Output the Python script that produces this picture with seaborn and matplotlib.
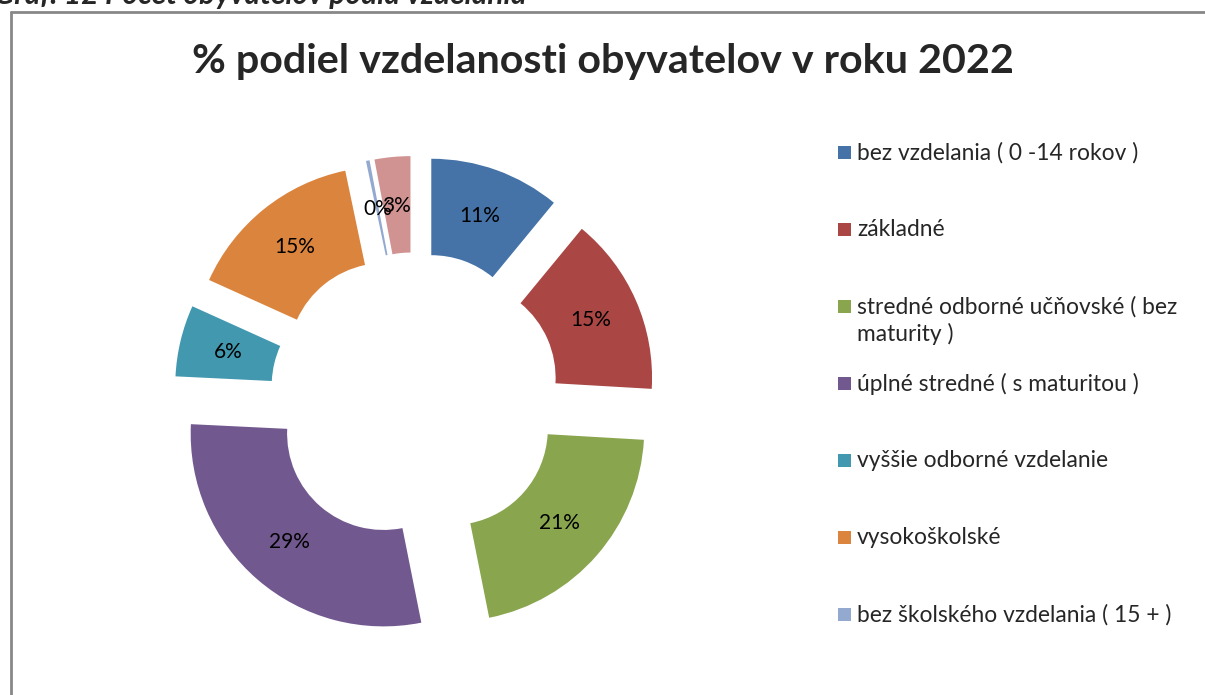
#===========================================
# Vzdelanost obyvatelov 2022 - donut chart
#===========================================

import matplotlib
matplotlib.use("Agg")
import matplotlib.pyplot as plt
from matplotlib.patches import Rectangle
from matplotlib.lines import Line2D
import seaborn as sns

# Data
categories = [
    "bez vzdelania ( 0 -14 rokov )",
    "základné",
    "stredné odborné učňovské ( bez\nmaturity )",
    "úplné stredné ( s maturitou )",
    "vyššie odborné vzdelanie",
    "vysokoškolské",
    "bez školského vzdelania ( 15 + )",
    "",
]
shares = [11, 15, 21, 29, 6, 15, 0.3, 3]
colors = ["#4572A7", "#AA4643", "#89A54E", "#71588F",
          "#4198AF", "#DB843D", "#93A9CF", "#D19392"]
legend_count = 7  # last slice has no legend entry in the source

title = "% podiel vzdelanosti obyvatelov v roku 2022"
caption = "Graf. 12 Počet obyvateľov podľa vzdelania"

# Style
sns.set_style("white")
plt.rcParams["font.family"] = ["Lato", "DejaVu Sans"]

fig = plt.figure(figsize=(12.05, 6.95), dpi=100)
W, H = 1205, 695

# -----------------------------------------
# Donut
# -----------------------------------------
ax = fig.add_axes([145 / W, 28 / H, 540 / W, 540 / H])
wedges, texts, autotexts = ax.pie(
    shares,
    colors=colors,
    startangle=90,
    counterclock=False,
    explode=[0.25] * len(shares),
    autopct=lambda p: f"{p:.0f}%",
    pctdistance=0.745,
    wedgeprops=dict(width=0.5, edgecolor="none"),
    textprops=dict(fontsize=15, color="black"),
)
ax.set_xlim(-1.4, 1.4)
ax.set_ylim(-1.4, 1.4)
ax.set_aspect("equal")
ax.axis("off")

# -----------------------------------------
# Title, caption, frame
# -----------------------------------------
fig.text(603 / W, 1 - 62 / H, title, ha="center", va="center",
         fontsize=29.7, fontweight="bold")
fig.text(-6 / W, 1 - 4 / H, caption, ha="left", va="baseline",
         fontsize=21.5, fontweight="bold", fontstyle="italic")

frame = dict(color="#888888", lw=2, transform=fig.transFigure)
fig.lines.append(Line2D([11 / W, 11 / W], [0, 1 - 12 / H], **frame))
fig.lines.append(Line2D([11 / W, 1], [1 - 12 / H, 1 - 12 / H], **frame))

# -----------------------------------------
# Legend
# -----------------------------------------
for i in range(legend_count):
    y = 152 + i * 77
    fig.patches.append(Rectangle((838 / W, 1 - (y + 7) / H), 13 / W, 13 / H,
                                 facecolor=colors[i], edgecolor="none",
                                 transform=fig.transFigure))
    fig.text(857 / W, 1 - (y - 10) / H, categories[i], ha="left", va="top",
             fontsize=16.4, linespacing=1.3)

fig.savefig("out.png", dpi=100)
